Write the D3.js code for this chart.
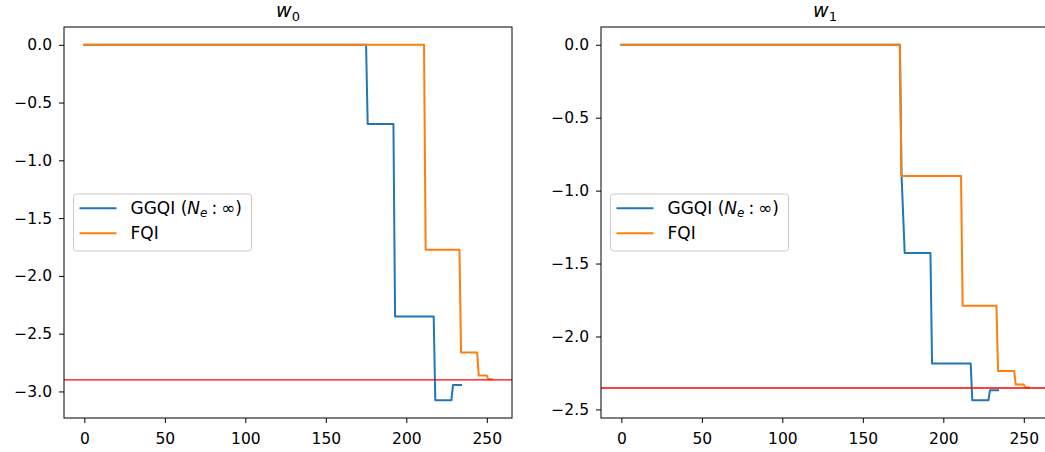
<!DOCTYPE html>
<html>
<head>
<meta charset="utf-8">
<script src="https://cdn.jsdelivr.net/npm/d3@7"></script>
<style>
    body { margin: 0; background: #fff; }
    text { font-family: 'DejaVu Sans', sans-serif; fill: #000; }
    .tick text { font-size: 15.5px; }
    .tick line { stroke: #000; stroke-width: 1; }
</style>
</head>
<body>
<div id="chart"></div>
<script>
    // w0 panel
    var w0GgqiX = [0, 175, 176, 192, 193, 217, 218, 228, 229, 234];
    var w0GgqiY = [0, 0, -0.685, -0.685, -2.351, -2.351, -3.076, -3.076, -2.944, -2.944];
    var w0FqiX = [0, 211, 212, 233, 234, 244, 245, 250, 251, 253];
    var w0FqiY = [0, 0, -1.774, -1.774, -2.662, -2.662, -2.863, -2.863, -2.895, -2.895];
    var w0Target = -2.9;
    var w0Ticks = [0, -0.5, -1, -1.5, -2, -2.5, -3];

    // w1 panel
    var w1GgqiX = [0, 173, 174, 176, 192, 193, 217, 218, 228, 229, 234];
    var w1GgqiY = [0, 0, -0.88, -1.427, -1.427, -2.185, -2.185, -2.437, -2.437, -2.368, -2.368];
    var w1FqiX = [0, 173, 174, 211, 212, 233, 234, 244, 245, 250, 251, 253];
    var w1FqiY = [0, 0, -0.9, -0.9, -1.79, -1.79, -2.236, -2.236, -2.33, -2.33, -2.35, -2.35];
    var w1Target = -2.353;
    var w1Ticks = [0, -0.5, -1, -1.5, -2, -2.5];

    var xTicks = [0, 50, 100, 150, 200, 250];
    var colors = ["#1f77b4", "#ff7f0e"];

    var width = 448, height = 391, marginTop = 27;

    var svg = d3.select("#chart").append("svg")
        .attr("width", 1045)
        .attr("height", 452)
        .style("background", "#fff");

    function panel(left, sub, xs, ys, yTicks, target) {
        var g = svg.append("g").attr("transform", "translate(" + left + "," + marginTop + ")");

        var xMax = d3.max(xs, function (a) { return d3.max(a); });
        var x = d3.scaleLinear().domain([-0.05 * xMax, 1.05 * xMax]).range([0, width]);
        var yMin = d3.min(ys, function (a) { return d3.min(a); });
        var yMax = d3.max(ys, function (a) { return d3.max(a); });
        var pad = (yMax - yMin) * 0.05;
        var y = d3.scaleLinear().domain([yMin - pad, yMax + pad]).range([height, 0]);

        // axes
        var xa = g.append("g")
            .attr("transform", "translate(0," + height + ")")
            .call(d3.axisBottom(x).tickValues(xTicks).tickSize(5).tickPadding(9.5).tickFormat(d3.format("d")));
        var ya = g.append("g")
            .call(d3.axisLeft(y).tickValues(yTicks).tickSize(5).tickPadding(7).tickFormat(d3.format(".1f")));
        xa.select(".domain").remove();
        ya.select(".domain").remove();
        xa.selectAll("text").attr("font-family", null);
        ya.selectAll("text").attr("font-family", null);

        // lines
        var line = d3.line()
            .x(function (d) { return x(d[0]); })
            .y(function (d) { return y(d[1]); });
        xs.forEach(function (xv, k) {
            g.append("path")
                .datum(d3.zip(xv, ys[k]))
                .attr("d", line)
                .attr("fill", "none")
                .attr("stroke", colors[k])
                .attr("stroke-width", 2)
                .attr("stroke-linejoin", "round")
                .attr("stroke-linecap", "square");
        });

        // target line
        g.append("line")
            .attr("x1", 0).attr("x2", width)
            .attr("y1", y(target)).attr("y2", y(target))
            .attr("stroke", "#ff0000")
            .attr("stroke-width", 1.3);

        // frame
        g.append("rect")
            .attr("width", width).attr("height", height)
            .attr("fill", "none").attr("stroke", "#000").attr("stroke-width", 1);

        // title
        var t = g.append("text")
            .attr("x", width / 2).attr("y", -10.5)
            .attr("text-anchor", "middle")
            .style("font-size", "19px");
        t.append("tspan").style("font-style", "italic").text("w");
        t.append("tspan").attr("dy", 4).style("font-size", "13px").text(sub);

        // legend
        var lg = g.append("g").attr("transform", "translate(9.5,167)");
        lg.append("rect")
            .attr("width", 178).attr("height", 57).attr("rx", 3)
            .attr("fill", "#fff").attr("fill-opacity", 0.8)
            .attr("stroke", "#cccccc").attr("stroke-width", 1);
        [14.3, 39.3].forEach(function (ry, k) {
            lg.append("line")
                .attr("x1", 6).attr("x2", 43)
                .attr("y1", ry).attr("y2", ry)
                .attr("stroke", colors[k]).attr("stroke-width", 2);
        });
        var l1 = lg.append("text").attr("x", 57).attr("y", 14.3 + 6).style("font-size", "17px");
        l1.append("tspan").text("GGQI (");
        l1.append("tspan").style("font-style", "italic").text("N");
        l1.append("tspan").attr("dy", 3).style("font-style", "italic").style("font-size", "12px").text("e");
        l1.append("tspan").attr("dy", -3).attr("dx", 4).text(":");
        l1.append("tspan").attr("dx", 4).text("\u221e");
        l1.append("tspan").text(")");
        lg.append("text").attr("x", 57).attr("y", 39.3 + 6).style("font-size", "17px").text("FQI");
    }

    panel(64, "0", [w0GgqiX, w0FqiX], [w0GgqiY, w0FqiY], w0Ticks, w0Target);
    panel(601, "1", [w1GgqiX, w1FqiX], [w1GgqiY, w1FqiY], w1Ticks, w1Target);
</script>
</body>
</html>
